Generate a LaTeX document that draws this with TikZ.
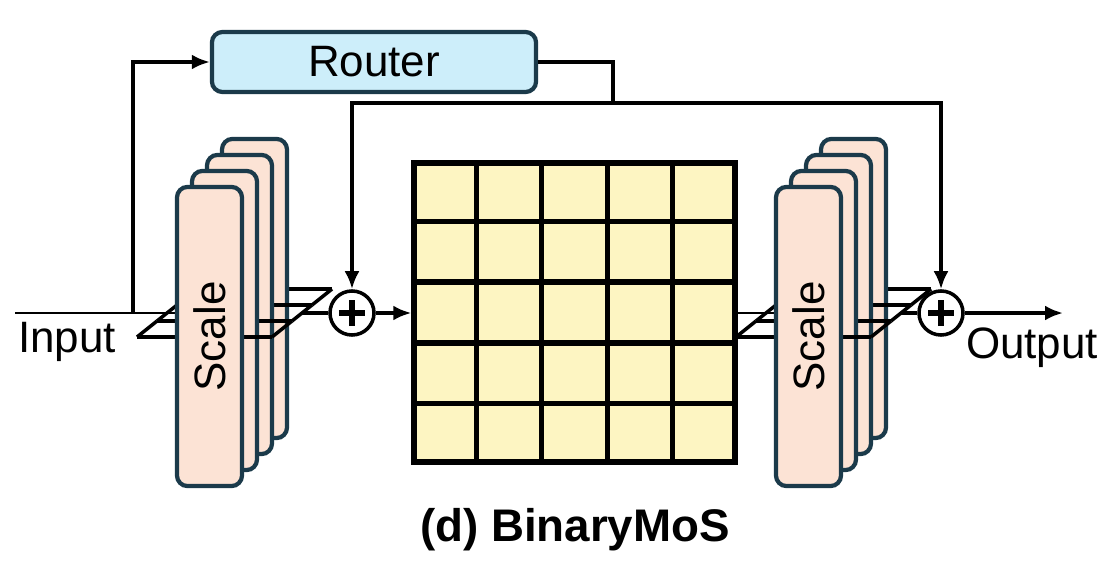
\documentclass[tikz,border=0pt]{standalone}
\usepackage{fontspec}
\setmainfont{Liberation Sans}
\usetikzlibrary{positioning,arrows.meta,calc,backgrounds}

\definecolor{routerblue}{HTML}{CDEEFA}
\definecolor{scalepeach}{HTML}{FCE3D5}
\definecolor{weightyellow}{HTML}{FDF5C2}
\definecolor{edgeteal}{HTML}{1B3A4A}

\begin{document}
\begin{tikzpicture}[
x=0.01cm, y=-0.01cm,
font=\fontsize{12.5}{15}\selectfont,
line width=1pt,
>={Latex[length=1.8mm,width=1.5mm]},
routerbox/.style={
draw=edgeteal,
line width=1.2pt,
fill=routerblue,
rounded corners=3pt,
minimum width=3.24cm,
minimum height=0.6cm
},
scalebox/.style={
draw=edgeteal,
line width=1.2pt,
fill=scalepeach,
rounded corners=3pt,
minimum width=0.65cm,
minimum height=2.99cm
},
weights/.style={
draw,
line width=1.5pt,
fill=weightyellow,
minimum width=3.21cm,
minimum height=2.99cm
},
adder/.style={
draw,
circle,
fill=white,
minimum size=0.44cm,
inner sep=0pt,
path picture={
\draw[line width=1.9pt]
([xshift=-0.13cm]path picture bounding box.center) -- ([xshift=0.13cm]path picture bounding box.center)
([yshift=-0.13cm]path picture bounding box.center) -- ([yshift=0.13cm]path picture bounding box.center);
}
},
lbl/.style={inner sep=0pt, anchor=base}
]

\useasboundingbox (0,0) rectangle (1118,564);

\node[routerbox] (router) at (374,62) {Router};

% scale stacks, back to front, with the plane cutting through
\foreach \s/\dx in {L/0,R/599}{
\foreach \i in {3,2,1,0}{
\draw ({137+20*\i+\dx},{337-16*\i}) -- ({272+20*\i+\dx},{337-16*\i});
\ifnum\i<3
\draw ({137+20*\i+\dx},{337-16*\i}) -- ({157+20*\i+\dx},{321-16*\i});
\draw ({272+20*\i+\dx},{337-16*\i}) -- ({292+20*\i+\dx},{321-16*\i});
\fi
\node[scalebox] (scale\s\i) at ({209.5+15*\i+\dx},{336.5-16*\i}) {};
}
\node[rotate=90] (scaletxt\s) at (scale\s0) {Scale};
\coordinate (plane\s) at ({302+\dx},313);
}

\node[weights] (mat) at (574.5,312.5) {};
\foreach \k in {1,...,4}{
\draw[line width=1.5pt] ($(mat.north west)!\k/5!(mat.north east)$) -- ($(mat.south west)!\k/5!(mat.south east)$);
\draw[line width=1.5pt] ($(mat.north west)!\k/5!(mat.south west)$) -- ($(mat.north east)!\k/5!(mat.south east)$);
}

\node[adder] (plusL) at (352,313) {};
\node[adder] (plusR) at (941,313) {};

\coordinate (in) at (15,313);
\coordinate (split) at (133,313);
\coordinate (bus) at (613,103);
\coordinate (out) at (1063,313);

\begin{scope}[on background layer]
\draw (in) -- (in -| scaleL0.center);
\draw (mat.east |- plusR) -- (scaleR0.center |- plusR);
\end{scope}

\draw[->] (split) |- (router.west);
\draw (router.east) -| (bus);
\draw[->] (bus) -| (plusL.north);
\draw[->] (bus) -| (plusR.north);

\draw (planeL) -- (plusL);
\draw[->] (plusL) -- (plusL -| mat.west);
\draw (planeR) -- (plusR);
\draw[->] (plusR) -- (out);

\node[lbl] (inlbl) at (67,353) {Input};
\node[lbl] (outlbl) at (1032,358) {Output};
\node[lbl, font=\fontsize{13}{15}\selectfont\bfseries] (title) at (575,541) {(d) BinaryMoS};

\end{tikzpicture}
\end{document}
